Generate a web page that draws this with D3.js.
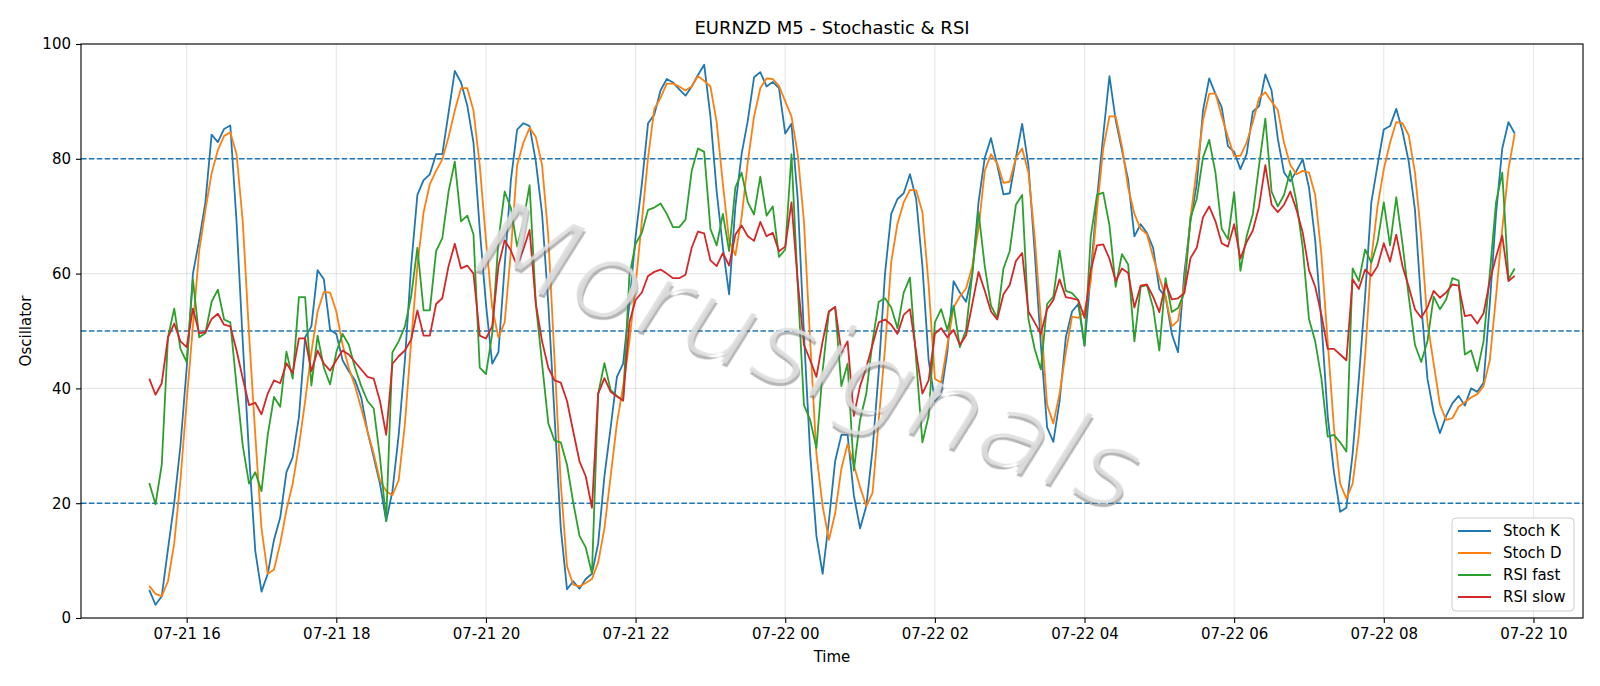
<!DOCTYPE html>
<html>
<head>
<meta charset="utf-8">
<script src="https://cdn.jsdelivr.net/npm/d3@7"></script>
<style>
	body { margin: 0; background: #fff; }
	text { font-family: "DejaVu Sans", sans-serif; }
</style>
</head>
<body>
<script>
const width = 1600;
const height = 686;

// first bar 2025-07-21 15:30, 5 minute bars
const startTime = new Date(2025, 6, 21, 15, 30);
const stepMinutes = 5;

const stochK = [4.9, 2.3, 3.8, 12, 20, 30, 43.6, 60, 65.8, 72.4, 84.2, 82.9, 85.2, 85.8, 69, 48, 28.6, 11.7, 4.6, 7.7,
	13.6, 17.5, 25.4, 28, 35, 48.9, 50.8, 60.6, 59, 50.2, 49.5, 44.9, 43, 41.4, 38.4, 32.5, 28, 23.4, 16.9, 22.1,
	31.9, 44.9, 61.3, 73.7, 76.3, 77.3, 80.8, 80.8, 88, 95.3, 93.3, 89.3, 82.8, 67.8, 54.7, 44.3, 46.3, 61.3, 76.3, 85.1,
	86.2, 85.7, 79.5, 70.4, 54.7, 35.2, 15.6, 5, 6.4, 5.1, 6.8, 7.7, 13, 24.7, 33.2, 42, 44.3, 54.7, 66.5, 75.6,
	86.2, 87.7, 91.9, 93.9, 93.3, 92.1, 91, 92.6, 94.6, 96.4, 87.4, 74.3, 64.5, 56.4, 71.7, 80.8, 86.7, 94.2, 95.1, 92.6,
	93.4, 92.3, 84.4, 86.1, 73, 49.5, 28.6, 14.3, 7.7, 16.9, 27.3, 31.9, 31.9, 21.4, 15.6, 19.5, 29.3, 43, 60, 70.4,
	73, 74, 77.3, 73, 61.3, 44.9, 37.8, 39.1, 46.3, 58.7, 56.7, 55.1, 60, 72.4, 80.2, 83.6, 78.9, 73.8, 74, 80.2,
	86.1, 78.9, 63.9, 47.6, 33.2, 30.7, 37.8, 48.9, 53.4, 54.7, 47.4, 60, 73, 84.1, 94.4, 86.7, 81.5, 76.3, 66.5, 68.6,
	67.1, 64.5, 57.3, 56, 49.5, 46.3, 60, 69.1, 75.6, 88.4, 94, 91.3, 89, 82.2, 81.2, 78.2, 80.8, 88.2, 89.2, 94.7,
	91.9, 83.5, 77.6, 76.1, 77.9, 79.9, 75, 65.8, 51.5, 35.2, 25.4, 18.5, 19.2, 28.6, 41.7, 56, 72.4, 78.9, 85.1, 85.7,
	88.7, 84.8, 79.5, 71.1, 54.7, 41.7, 35.8, 32.2, 35.2, 37.4, 38.7, 37, 40, 39.4, 41, 54.7, 70.4, 81.8, 86.4, 84.4];

const stochD = [5.6, 4.2, 3.8, 6.4, 13, 24, 37.8, 50.8, 63.9, 71, 77.5, 81.5, 84, 84.6, 80.8, 69, 49.5, 31.9, 15.6, 7.7,
	8.4, 13, 18.8, 23.4, 30, 37.8, 46.3, 53.4, 56.8, 56.7, 53.4, 47.6, 43.6, 40.4, 36.5, 32.5, 28.6, 24, 22.1, 21.4,
	24, 33.8, 48.2, 61.3, 70.7, 75.6, 77.9, 79.9, 83.8, 88.4, 92.3, 92.3, 88.4, 78.9, 65.8, 54.1, 48.9, 51.5, 63.9, 78.9,
	82.8, 85.4, 83.8, 78.9, 66.5, 45, 23.4, 9, 5.8, 5.5, 6.1, 6.8, 9.7, 15.6, 24.7, 33.9, 40.4, 48.2, 58, 69.1,
	80.2, 88.7, 90.6, 93.1, 93.1, 92.6, 91.9, 92.6, 94.4, 93.6, 92.6, 86.4, 75.6, 65.8, 63.2, 69.8, 79.5, 87.4, 92.3, 94,
	93.9, 92.7, 90, 87.4, 80.8, 69.1, 48.2, 28.6, 19.5, 13.6, 18.2, 26, 30.3, 26.7, 22.8, 19.5, 21.8, 34.5, 46.9, 62,
	68.7, 72.4, 74.6, 74.5, 70.7, 58, 41.7, 41, 47.6, 54.1, 56, 57.4, 61.3, 67.8, 77.9, 80.8, 79.2, 75.8, 76, 80.2,
	81.8, 77.6, 66.5, 52.1, 37.1, 33.9, 39.1, 46.3, 52.5, 52.3, 53.4, 58.7, 71.1, 81.8, 87.4, 87.4, 82.2, 75, 70.4, 67.8,
	66.9, 62.9, 59.3, 56, 50.8, 51.8, 58, 69.8, 78.2, 86.7, 91.3, 91.4, 87.4, 83.8, 80.5, 80.5, 82.8, 86.4, 90.6, 91.6,
	90, 88.5, 82.8, 78.9, 77.3, 77.9, 77.6, 73.7, 63.2, 48.2, 33.2, 23.4, 20.8, 23.4, 31.9, 45.6, 62.6, 71.7, 78.2, 82.8,
	86.4, 86.2, 84.1, 77.6, 66.5, 51.5, 44.3, 37.2, 34.5, 34.8, 36.8, 37.6, 38.4, 39, 40.4, 44.9, 56, 67.8, 78.2, 84.4];

const rsiFast = [23.5, 19.8, 26.7, 48.9, 53.9, 46.9, 44.6, 59, 48.9, 49.6, 55.1, 57.2, 52, 51.5, 40.4, 30, 23.4, 25.4, 22.1, 31.9,
	38.5, 36.8, 46.4, 41.7, 55.9, 55.9, 40.5, 49.2, 43.6, 40.7, 46.3, 49.5, 47.6, 43.6, 40.4, 37.8, 36.5, 28, 16.9, 46.3,
	48.2, 50.8, 56, 64.5, 53.6, 53.6, 63.9, 66.2, 74.3, 79.5, 69.1, 70.1, 66.8, 43.6, 42.5, 49.5, 65.8, 74.3, 71.4, 64.7,
	69.1, 75.4, 54.7, 44.3, 33.9, 30.9, 30.6, 26.7, 20.1, 14.3, 12.3, 7.7, 39.1, 44.4, 39.7, 38.7, 37.9, 59.6, 65.2, 67.1,
	71.1, 71.5, 72.2, 70.4, 68.1, 68.1, 69.4, 77.9, 81.8, 81.2, 67.8, 64.9, 70.4, 63.9, 75, 77.6, 72.4, 70.3, 76.9, 70.1,
	71.7, 62.9, 64.2, 80.8, 58, 37.1, 34.5, 29.6, 43, 53.4, 54.2, 40.4, 44.3, 25.7, 34.5, 39.1, 48.2, 55.1, 55.7, 54.1,
	50.5, 56.7, 59.3, 44.9, 30.6, 35.2, 51.5, 53.8, 50.2, 54.4, 47.2, 50.2, 60, 70.7, 61.3, 54.4, 52.3, 60.9, 63.9, 72,
	73.7, 52.1, 46.9, 43.3, 54.7, 56, 64, 57, 56.6, 55.4, 47.5, 66.5, 73.7, 74.1, 68.4, 57.7, 63.4, 61.6, 48.2, 57.7,
	58, 54.1, 46.6, 59.2, 53.3, 54, 56.7, 69.8, 73, 80.2, 83.3, 77.6, 67.8, 66, 74.2, 60.5, 66.5, 70.4, 78.9, 87,
	74.3, 71.7, 73.7, 77.9, 72.4, 64.5, 52.1, 48.2, 41.7, 31.6, 31.9, 30.6, 29, 60.9, 58.7, 64.2, 61.9, 65.5, 72.4, 64.9,
	73.3, 65.2, 56, 47.6, 44.6, 48.2, 56, 53.8, 55.5, 59.2, 58.8, 45.9, 46.6, 43, 48.2, 60, 72.4, 77.6, 59, 60.9];

const rsiSlow = [41.7, 38.9, 40.9, 48.9, 51.3, 48.2, 47.2, 53.9, 49.6, 49.8, 52.1, 53, 51.1, 50.8, 46.6, 41.7, 37.1, 37.5, 35.5, 39.1,
	41.4, 40.9, 44.4, 42.7, 48.7, 48.7, 43, 46.6, 44.3, 43.1, 44.9, 46.6, 45.9, 44.6, 43.3, 42, 41.7, 37.8, 31.9, 44.3,
	45.6, 46.6, 48.5, 53.6, 49.2, 49.2, 54.7, 55.7, 61.3, 65.2, 60.9, 61.4, 60, 49.2, 48.7, 50.8, 61.3, 65.8, 64, 61.3,
	64.2, 67.6, 54.7, 48.2, 43.6, 41.4, 41, 37.8, 32.5, 27.3, 24.7, 19.2, 39.1, 41.8, 39.4, 38.6, 37.9, 51.5, 55.4, 56.7,
	59.6, 60.3, 60.7, 60, 59.2, 59.2, 59.8, 64.5, 67.3, 67, 62.3, 61.3, 63.6, 61.4, 66.8, 68.4, 66.5, 65.7, 69, 66.5,
	67.1, 63.9, 64.7, 72.4, 58.7, 47.6, 44.9, 42, 48.2, 53.4, 54.2, 46.3, 48.2, 35.2, 40.4, 43.6, 47.6, 51.5, 52, 51.1,
	49.5, 52.8, 53.8, 46.3, 39.1, 41.4, 49.5, 50.5, 48.9, 50.2, 47.6, 49.2, 54.7, 60.3, 57, 53.4, 52, 56.4, 58, 62.2,
	63.6, 53.4, 51.5, 49.5, 53.8, 55.4, 59, 55.9, 55.7, 55.4, 52.3, 60.6, 64.9, 65.1, 62.6, 58.7, 60.9, 60.1, 54.1, 57.9,
	58.1, 56, 53.3, 58.3, 55.5, 55.7, 56.6, 62.7, 64.5, 69.8, 71.7, 69.1, 65.3, 64.7, 68.6, 62.6, 65.5, 67.5, 71.7, 78.9,
	72, 70.7, 72, 74.3, 71.1, 67.1, 60.6, 57.7, 52.8, 46.9, 46.9, 45.9, 44.9, 59, 57.3, 60.7, 59.6, 61.3, 65.3, 62.1,
	66.8, 61.3, 57.7, 53.8, 52.3, 54.1, 57, 55.8, 56.7, 58.1, 57.9, 52.6, 52.8, 51.3, 53.1, 58.7, 62.9, 66.6, 58.7, 59.6];

const seriesNames = ["Stoch K", "Stoch D", "RSI fast", "RSI slow"];
const seriesColors = ["#1f77b4", "#ff7f0e", "#2ca02c", "#d62728"];
const levels = [20, 50, 80];
const yTicks = [0, 20, 40, 60, 80, 100];

const times = stochK.map(function (d, i) { return d3.timeMinute.offset(startTime, i * stepMinutes); });
const allSeries = [stochK, stochD, rsiFast, rsiSlow];

const margin = { top: 44, right: 17, bottom: 68, left: 81 };
const plotW = width - margin.left - margin.right;
const plotH = height - margin.top - margin.bottom;

const svg = d3.select("body").append("svg")
	.attr("width", width)
	.attr("height", height);

// thins the watermark glyphs
svg.append("defs").append("filter")
	.attr("id", "thin")
	.attr("x", "-10%").attr("y", "-30%").attr("width", "120%").attr("height", "160%")
	.append("feMorphology")
	.attr("operator", "erode")
	.attr("radius", 1.7);

// matplotlib style 5% padding on the time axis
const t0 = times[0], t1 = times[times.length - 1];
const pad = (t1 - t0) * 0.05;
const x = d3.scaleTime()
	.domain([new Date(+t0 - pad), new Date(+t1 + pad)])
	.range([0, plotW]);
const y = d3.scaleLinear().domain([0, 100]).range([plotH, 0]);

const g = svg.append("g").attr("transform", "translate(" + margin.left + "," + margin.top + ")");

const xTicks = x.ticks(d3.timeHour.every(2));

// grid
g.append("g").selectAll("line")
	.data(xTicks)
	.enter().append("line")
	.attr("x1", function (d) { return x(d); })
	.attr("x2", function (d) { return x(d); })
	.attr("y1", 0).attr("y2", plotH)
	.attr("stroke", "#b0b0b0").attr("stroke-opacity", 0.3).attr("stroke-width", 1.1);
g.append("g").selectAll("line")
	.data(yTicks)
	.enter().append("line")
	.attr("x1", 0).attr("x2", plotW)
	.attr("y1", function (d) { return y(d); })
	.attr("y2", function (d) { return y(d); })
	.attr("stroke", "#b0b0b0").attr("stroke-opacity", 0.3).attr("stroke-width", 1.1);

// reference levels
g.append("g").selectAll("line")
	.data(levels)
	.enter().append("line")
	.attr("x1", 0).attr("x2", plotW)
	.attr("y1", function (d) { return y(d); })
	.attr("y2", function (d) { return y(d); })
	.attr("stroke", "#1f77b4").attr("stroke-width", 1.4)
	.attr("stroke-dasharray", "5.5,2.4");

const line = d3.line()
	.x(function (d, i) { return x(times[i]); })
	.y(function (d) { return y(d); });

g.append("g").selectAll("path")
	.data(allSeries)
	.enter().append("path")
	.attr("d", line)
	.attr("fill", "none")
	.attr("stroke", function (d, i) { return seriesColors[i]; })
	.attr("stroke-width", 1.8)
	.attr("stroke-linejoin", "round");

// watermark, thin italic letters with a soft shadow
const wm = g.append("g")
	.attr("transform", "translate(" + (810 - margin.left) + "," + (356 - margin.top) + ") rotate(20.5)");
wm.append("g").attr("filter", "url(#thin)").attr("opacity", 0.5)
	.append("text")
	.attr("x", 2).attr("y", 3)
	.attr("text-anchor", "middle").attr("dominant-baseline", "central")
	.attr("font-size", 110).attr("font-style", "oblique")
	.attr("textLength", 700).attr("lengthAdjust", "spacingAndGlyphs")
	.attr("fill", "#6e6e6e")
	.text("Morusignals");
wm.append("g").attr("filter", "url(#thin)").attr("opacity", 0.9)
	.append("text")
	.attr("text-anchor", "middle").attr("dominant-baseline", "central")
	.attr("font-size", 110).attr("font-style", "oblique")
	.attr("textLength", 700).attr("lengthAdjust", "spacingAndGlyphs")
	.attr("fill", "#dedede")
	.text("Morusignals");

// axes
const xAxis = g.append("g")
	.attr("transform", "translate(0," + plotH + ")")
	.call(d3.axisBottom(x).tickValues(xTicks).tickFormat(d3.timeFormat("%m-%d %H")).tickSize(5).tickPadding(5));
const yAxis = g.append("g")
	.call(d3.axisLeft(y).tickValues(yTicks).tickSize(5).tickPadding(5));
[xAxis, yAxis].forEach(function (a) {
	a.select(".domain").remove();
	a.selectAll("line").attr("stroke", "#000").attr("stroke-width", 1.1);
	a.selectAll("text").attr("fill", "#000").attr("font-size", 15).attr("font-family", "DejaVu Sans");
});

g.append("rect")
	.attr("width", plotW).attr("height", plotH)
	.attr("fill", "none").attr("stroke", "#000").attr("stroke-width", 1.1);

// labels
svg.append("text")
	.attr("x", margin.left + plotW / 2).attr("y", 27)
	.attr("text-anchor", "middle").attr("dominant-baseline", "central")
	.attr("font-size", 18).text("EURNZD M5 - Stochastic & RSI");
svg.append("text")
	.attr("x", margin.left + plotW / 2).attr("y", 657)
	.attr("text-anchor", "middle").attr("dominant-baseline", "central")
	.attr("font-size", 15).text("Time");
svg.append("text")
	.attr("transform", "translate(26," + (margin.top + plotH / 2) + ") rotate(-90)")
	.attr("text-anchor", "middle").attr("dominant-baseline", "central")
	.attr("font-size", 15).text("Oscillator");

// legend
const legend = svg.append("g").attr("transform", "translate(1452,518)");
legend.append("rect")
	.attr("width", 122).attr("height", 93).attr("rx", 4)
	.attr("fill", "#fff").attr("fill-opacity", 0.8)
	.attr("stroke", "#cccccc").attr("stroke-width", 1);
const item = legend.selectAll(".item")
	.data(seriesNames)
	.enter().append("g")
	.attr("transform", function (d, i) { return "translate(0," + (13 + i * 22) + ")"; });
item.append("line")
	.attr("x1", 6).attr("x2", 39)
	.attr("stroke", function (d, i) { return seriesColors[i]; })
	.attr("stroke-width", 1.8);
item.append("text")
	.attr("x", 51)
	.attr("dominant-baseline", "central")
	.attr("font-size", 15)
	.text(function (d) { return d; });
</script>
</body>
</html>
